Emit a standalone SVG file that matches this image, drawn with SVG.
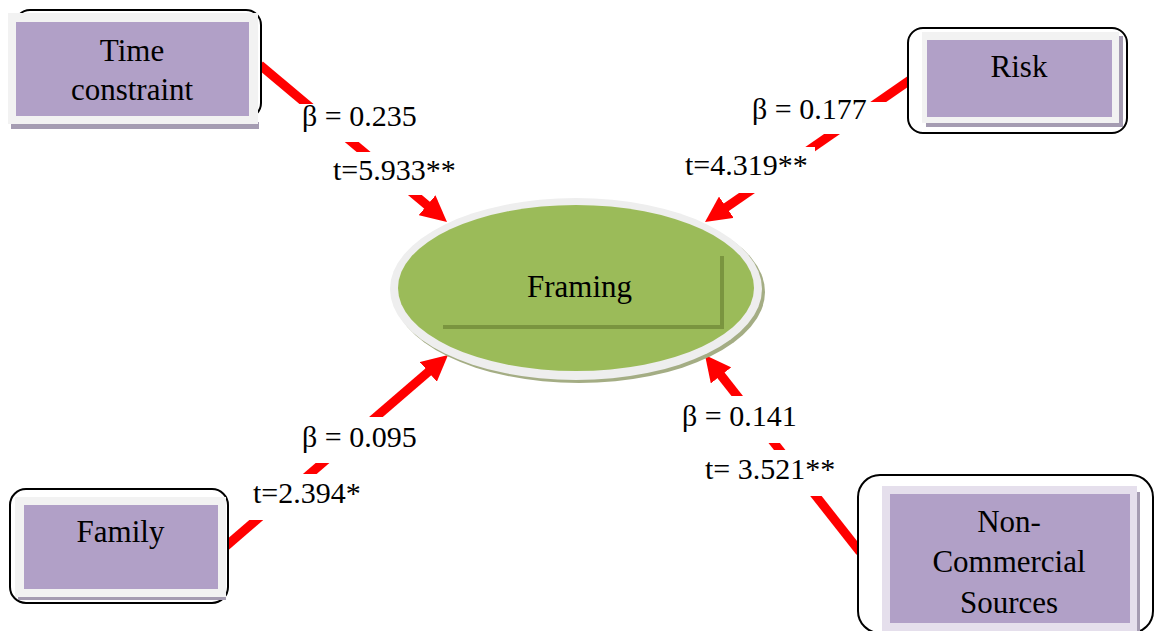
<svg xmlns="http://www.w3.org/2000/svg" width="1158" height="631" viewBox="0 0 1158 631">
  <style>
    .txt { font-family: "Liberation Serif", "Times New Roman", serif; font-size: 30px; fill: #000; }
    .ntxt { font-family: "Liberation Serif", "Times New Roman", serif; font-size: 31px; fill: #000; text-anchor: middle; }
    .conn { stroke: #ff0000; stroke-width: 9; fill: none; marker-end: url(#head); }
    .lblbg { fill: #ffffff; }
    .outer { fill: #ffffff; stroke: #000000; stroke-width: 2; }
    .panel { fill: #f2f2f2; }
    .panel2 { fill: #e5dfec; }
    .shadow { fill: #a59cb2; }
    .purple { fill: #b1a0c7; }
  </style>
  <defs>
    <marker id="head" markerUnits="userSpaceOnUse" viewBox="0 0 26 26" markerWidth="26" markerHeight="26" refX="8" refY="13" orient="auto">
      <path d="M0,0 L26,13 L0,26 z" fill="#ff0000"/>
    </marker>
  </defs>
  <rect width="1158" height="631" fill="#ffffff"/>

  <g id="connectors">
    <line class="conn" x1="260" y1="65" x2="433.2" y2="210.4"/>
    <line class="conn" x1="910" y1="80" x2="719.8" y2="211.8"/>
    <line class="conn" x1="225" y1="547" x2="434.4" y2="366.7"/>
    <line class="conn" x1="860" y1="552" x2="716.1" y2="369.1"/>
  </g>

  <g id="labels">
    <rect class="lblbg" x="294" y="104" width="132" height="38"/>
    <rect class="lblbg" x="328" y="152" width="134" height="43"/>
    <rect class="lblbg" x="748" y="102" width="148" height="32"/>
    <rect class="lblbg" x="680" y="147" width="135" height="46"/>
    <rect class="lblbg" x="298" y="417" width="124" height="46"/>
    <rect class="lblbg" x="249" y="474" width="118" height="46"/>
    <rect class="lblbg" x="678" y="396" width="122" height="47"/>
    <rect class="lblbg" x="700" y="450" width="140" height="46"/>
    <text class="txt" x="302" y="126">β = 0.235</text>
    <text class="txt" x="333" y="180">t=5.933**</text>
    <text class="txt" x="752" y="119">β = 0.177</text>
    <text class="txt" x="685" y="175">t=4.319**</text>
    <text class="txt" x="302" y="447">β = 0.095</text>
    <text class="txt" x="253" y="503">t=2.394*</text>
    <text class="txt" x="682" y="426">β = 0.141</text>
    <text class="txt" x="705" y="479">t= 3.521**</text>
  </g>

  <g id="node-framing">
    <ellipse cx="579" cy="292" rx="186" ry="91" fill="#a4ad84"/>
    <ellipse cx="576" cy="289" rx="186" ry="91" fill="#eeeeee"/>
    <ellipse cx="576" cy="288" rx="178" ry="83" fill="#9bbb59"/>
    <path d="M443,327 L722,327 L722,256" fill="none" stroke="#7a953f" stroke-width="4"/>
    <text class="ntxt" x="579.5" y="297">Framing</text>
  </g>

  <g id="node-time">
    <rect class="outer" x="15" y="10" width="246" height="108" rx="15"/>
    <rect class="shadow" x="11" y="122" width="248" height="7"/>
    <rect class="panel" x="8" y="13" width="250" height="111"/>
    <rect class="purple" x="16" y="22" width="233" height="94"/>
    <text class="ntxt" x="132" y="61">Time</text>
    <text class="ntxt" x="132" y="100">constraint</text>
  </g>

  <g id="node-risk">
    <rect class="outer" x="908" y="28" width="219" height="105" rx="15"/>
    <rect class="shadow" x="926" y="36" width="197" height="91"/>
    <rect class="panel" x="922" y="32" width="197" height="91"/>
    <rect class="purple" x="927" y="40" width="185" height="77"/>
    <text class="ntxt" x="1019" y="77">Risk</text>
  </g>

  <g id="node-family">
    <rect class="outer" x="10" y="489" width="218" height="114" rx="16"/>
    <rect class="shadow" x="18" y="595" width="208" height="5"/>
    <rect class="panel" x="15" y="497" width="211" height="100"/>
    <rect class="purple" x="24" y="505" width="194" height="84"/>
    <text class="ntxt" x="120.5" y="542">Family</text>
  </g>

  <g id="node-noncommercial">
    <rect class="outer" x="858" y="475" width="295" height="158" rx="22"/>
    <rect class="shadow" x="1136" y="492" width="4" height="139"/>
    <rect class="panel2" x="882" y="486" width="255" height="145"/>
    <rect class="purple" x="890" y="494" width="240" height="129"/>
    <text class="ntxt" x="1009" y="532">Non-</text>
    <text class="ntxt" x="1009" y="572">Commercial</text>
    <text class="ntxt" x="1009" y="613">Sources</text>
  </g>
</svg>
